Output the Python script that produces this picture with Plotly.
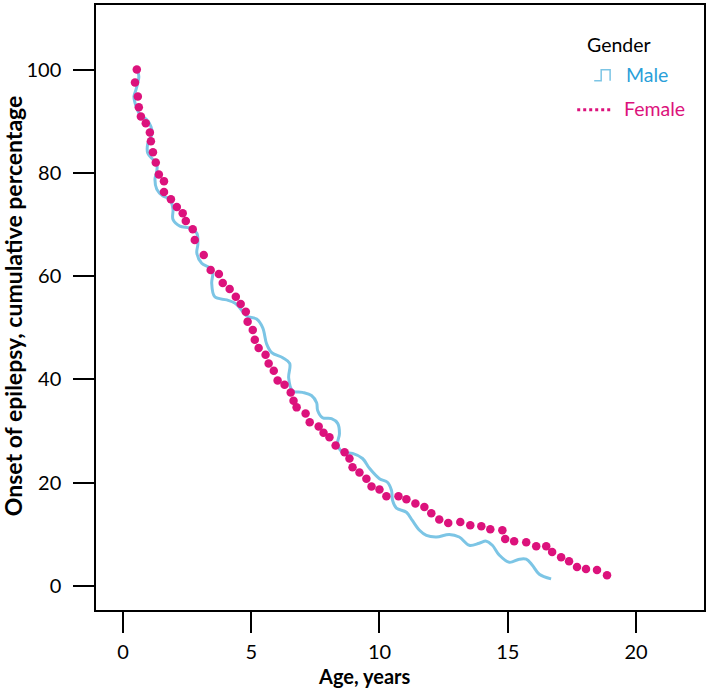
import plotly.graph_objects as go

# ---------------- data ----------------
female_age = [0.54, 0.47, 0.58, 0.62, 0.70, 0.89, 1.05, 1.09, 1.17, 1.28, 1.40, 1.60, 1.60,
              1.87, 2.10, 2.33, 2.45, 2.72, 2.80, 3.15, 3.42, 3.74, 3.89, 4.16, 4.40, 4.59,
              4.79, 4.86, 5.06, 5.14, 5.29, 5.56, 5.68, 5.88, 6.03, 6.30, 6.54, 6.65, 6.77,
              7.12, 7.28, 7.63, 7.82, 8.05, 8.29, 8.64, 8.83, 8.95, 9.22, 9.49, 9.69, 10.00,
              10.27, 10.74, 11.05, 11.40, 11.75, 12.02, 12.33, 12.68, 13.15, 13.54, 13.97,
              14.32, 14.79, 14.90, 15.25, 15.72, 16.11, 16.50, 16.73, 17.08, 17.39, 17.70,
              18.05, 18.48, 18.87]
female_pct = [100.0, 97.5, 94.8, 92.7, 90.9, 89.6, 87.8, 86.1, 84.0, 82.0, 79.7, 78.4, 76.3,
              74.9, 73.4, 72.2, 70.7, 69.1, 67.0, 64.1, 61.2, 60.4, 58.7, 57.5, 56.0, 54.6,
              53.1, 51.2, 49.6, 47.7, 46.1, 44.8, 43.1, 41.7, 39.8, 39.0, 37.5, 35.9, 34.6,
              33.4, 31.7, 30.9, 29.7, 28.8, 27.2, 25.9, 24.7, 23.0, 22.0, 20.8, 19.3, 18.7,
              17.4, 17.4, 16.8, 16.0, 15.3, 14.1, 12.9, 12.2, 12.4, 11.8, 11.6,
              11.0, 10.8, 9.1, 8.7, 8.5, 7.7, 7.7, 6.6, 5.6, 4.8, 3.7,
              3.3, 3.1, 2.1]

male_age = [0.58, 0.62, 0.51, 0.43, 0.51, 0.66, 0.93, 1.09, 1.13, 0.97, 0.97, 1.17, 1.32,
            1.32, 1.25, 1.32, 1.56, 1.83, 1.95, 1.95, 2.22, 2.61, 2.88, 2.92, 2.88, 3.07,
            3.39, 3.50, 3.46, 3.58, 4.05, 4.36, 4.55, 4.82, 5.21, 5.45, 5.60, 5.80, 6.23,
            6.50, 6.46, 6.61, 7.00, 7.35, 7.55, 7.59, 7.78, 8.13, 8.37, 8.44, 8.37, 8.56,
            8.95, 9.34, 9.61, 10.00, 10.31, 10.47, 10.51, 10.66, 11.05, 11.28, 11.56, 11.83,
            12.22, 12.72, 13.11, 13.50, 13.89, 14.16, 14.40, 14.67, 15.06, 15.45, 15.72,
            15.95, 16.23, 16.69]
male_pct = [99.6, 98.6, 96.1, 94.8, 92.9, 91.3, 90.3, 89.0, 87.5, 85.7, 83.8, 82.6, 81.7,
            80.3, 78.8, 76.8, 75.5, 74.9, 73.0, 71.0, 69.7, 69.3, 68.3, 66.2, 64.5, 62.5,
            61.6, 60.6, 58.7, 56.0, 55.4, 54.8, 53.9, 52.3, 51.7, 50.0, 46.9, 45.2, 44.2,
            43.1, 40.3, 37.8, 37.5, 36.9, 35.5, 34.0, 32.6, 32.4, 31.5, 29.5, 27.6, 25.9,
            25.7, 24.7, 22.8, 20.8, 20.1, 18.5, 16.6, 15.1, 14.3, 12.7, 10.8, 9.8,
            9.5, 10.0, 9.5, 7.9, 8.3, 8.7, 7.9, 6.0, 4.6, 5.2, 5.2,
            4.1, 2.3, 1.4]

x_ticks = [0, 5, 10, 15, 20]
y_ticks = [0, 20, 40, 60, 80, 100]

MALE_COLOR = "#7CC5E5"
MALE_TEXT = "#2A9FD9"
FEMALE_COLOR = "#DC127C"
FONT = "Lato"

W, H = 709, 691
L, R, T, B = 96, 705, 3, 610


def px2paper(x, y):
    return (x - L) / (R - L), (B - y) / (B - T)


fig = go.Figure()
fig.add_trace(go.Scatter(x=male_age, y=male_pct, mode="lines", name="Male",
                         line=dict(color=MALE_COLOR, width=3, shape="spline", smoothing=1.0),
                         showlegend=False))
fig.add_trace(go.Scatter(x=female_age, y=female_pct, mode="markers", name="Female",
                         marker=dict(color=FEMALE_COLOR, size=8.5, line=dict(width=0)),
                         showlegend=False))

axis_common = dict(showline=True, linecolor="black", linewidth=1.5, mirror=True,
                   ticks="outside", ticklen=21, tickwidth=1.5, tickcolor="black",
                   showgrid=False, zeroline=False,
                   tickfont=dict(family=FONT, size=20, color="black"))

fig.update_xaxes(range=[-1.05, 22.65], tickvals=x_ticks, ticklabelstandoff=2, **axis_common)
fig.update_yaxes(range=[-4.63, 112.5], tickvals=y_ticks, ticklabelstandoff=8, **axis_common)

annotations = []
# axis titles
ax, ay = px2paper(364, 676)
annotations.append(dict(text="<b>Age, years</b>", x=ax, y=ay, xref="paper", yref="paper",
                        showarrow=False, font=dict(family=FONT, size=20, color="black"),
                        xanchor="center", yanchor="middle"))
ax, ay = px2paper(13, 305)
annotations.append(dict(text="<b>Onset of epilepsy, cumulative percentage</b>", x=ax, y=ay,
                        xref="paper", yref="paper", showarrow=False, textangle=-90,
                        font=dict(family=FONT, size=23, color="black"),
                        xanchor="center", yanchor="middle"))
# custom legend
gx, gy = px2paper(586, 43)
annotations.append(dict(text="Gender", x=gx, y=gy, xref="paper", yref="paper", showarrow=False,
                        font=dict(family=FONT, size=19.5, color="black"),
                        xanchor="left", yanchor="middle"))
mx, my = px2paper(625, 73)
annotations.append(dict(text="Male", x=mx, y=my, xref="paper", yref="paper", showarrow=False,
                        font=dict(family=FONT, size=19.5, color=MALE_TEXT),
                        xanchor="left", yanchor="middle"))
fx, fy = px2paper(623, 107)
annotations.append(dict(text="Female", x=fx, y=fy, xref="paper", yref="paper", showarrow=False,
                        font=dict(family=FONT, size=19.5, color=FEMALE_COLOR),
                        xanchor="left", yanchor="middle"))

shapes = []
pts = [(595, 79), (602, 79), (602, 68), (611, 68), (611, 79)]
path = "M " + " L ".join("{:.4f},{:.4f}".format(*px2paper(x, y)) for x, y in pts)
shapes.append(dict(type="path", path=path, xref="paper", yref="paper",
                   line=dict(color=MALE_COLOR, width=1.5)))
x0, y0 = px2paper(578, 108)
x1, _ = px2paper(612, 108)
shapes.append(dict(type="line", x0=x0, x1=x1, y0=y0, y1=y0, xref="paper", yref="paper",
                   line=dict(color=FEMALE_COLOR, width=3, dash="dot")))

fig.update_layout(width=W, height=H, margin=dict(l=L, r=W - R, t=T, b=H - B),
                  plot_bgcolor="white", paper_bgcolor="white",
                  annotations=annotations, shapes=shapes,
                  font=dict(family=FONT))

fig.write_html("out.html", config={"displayModeBar": False},
               post_script="document.body.style.margin='0';document.body.style.padding='0';")
